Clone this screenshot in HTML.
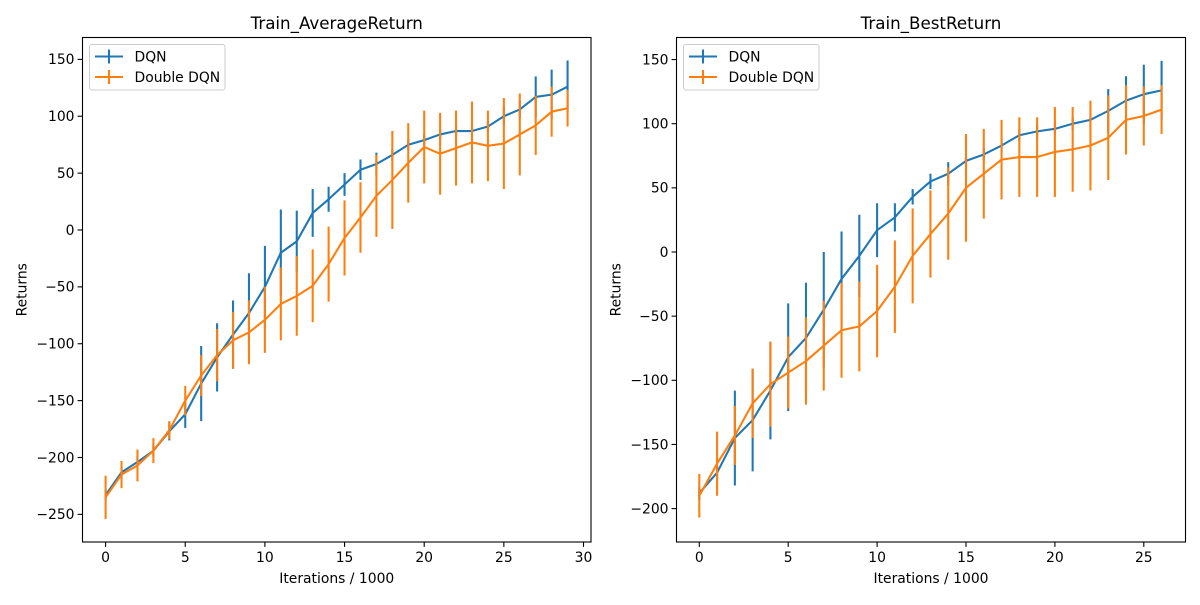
<!DOCTYPE html>
<html><head><meta charset="utf-8"><style>
html,body{margin:0;padding:0;background:#fff;}
svg text{font-family:"DejaVu Sans","Liberation Sans",sans-serif;fill:#000;}
</style></head>
<body>
<svg id="fig" width="1200" height="600" xmlns="http://www.w3.org/2000/svg"></svg>
<script>
// ---- Left chart data (Train_AverageReturn) ----
const leftIters = [0,1,2,3,4,5,6,7,8,9,10,11,12,13,14,15,16,17,18,19,20,21,22,23,24,25,26,27,28,29];
const leftDqnMean = [-233,-213,-204,-194,-177,-162,-135,-112,-92,-73,-50,-20,-10,15,27,40,53,58,66,75,79,84,87,87,91,100,106,117,119,126];
const leftDqnErr = [5,5,5,5,8,12,33,30,30,35,36,38,27,21,11,10,9,10,5,5,5,5,5,5,5,8,8,18,22,23];
const leftDdqnMean = [-235,-215,-207,-194,-176,-150,-128,-110,-97,-90,-79,-65,-58,-49,-30,-7,11,30,44,59,73,67,72,77,74,76,84,92,104,107];
const leftDdqnErr = [19,12,14,11,8,13,18,23,25,28,29,32,35,32,33,33,31,36,43,35,32,36,33,36,31,40,36,26,22,16];
const leftYTicks = [-250,-200,-150,-100,-50,0,50,100,150];
const leftXTicks = [0,5,10,15,20,25,30];
// ---- Right chart data (Train_BestReturn) ----
const rightIters = [0,1,2,3,4,5,6,7,8,9,10,11,12,13,14,15,16,17,18,19,20,21,22,23,24,25,26];
const rightDqnMean = [-188,-172,-145,-131,-108,-82,-67,-45,-21,-3,17,27,43,55,61,71,76,83,91,94,96,100,103,110,118,123,126];
const rightDqnErr = [5,5,37,40,38,42,43,45,37,32,21,11,6,6,9,5,5,5,5,5,5,5,5,17,19,23,23];
const rightDdqnMean = [-190,-165,-143,-118,-103,-94,-85,-73,-61,-58,-46,-27,-3,14,30,50,61,72,74,74,78,80,83,89,103,106,111];
const rightDdqnErr = [17,25,23,27,33,28,34,35,37,35,36,36,37,34,36,42,35,31,31,31,35,33,35,33,27,23,19];
const rightYTicks = [-200,-150,-100,-50,0,50,100,150];
const rightXTicks = [0,5,10,15,20,25];

const NS = "http://www.w3.org/2000/svg";
const svg = document.getElementById('fig');
function mk(tag, attrs, parent){ const e=document.createElementNS(NS,tag); for(const k in attrs) e.setAttribute(k,attrs[k]); (parent||svg).appendChild(e); return e; }

function drawChart(cfg){
  const g = mk('g',{});
  
  
  const X = v => cfg.x0 + v*cfg.xs;
  const Y = v => cfg.y0 - v*cfg.ys;
  const t = mk('text',{x:(cfg.L+cfg.R)/2, y:29, 'text-anchor':'middle','font-size':'16.7px'}, g);
  t.textContent = cfg.title;
  
  
  const series = [
    {mean:cfg.dm, err:cfg.de, color:'#1f77b4', name:'dqn'},
    {mean:cfg.ddm, err:cfg.dde, color:'#ff7f0e', name:'double-dqn'}
  ];
  series.forEach(s=>{
    const sg = mk('g',{}, g);
    
    
    const pts = cfg.iters.map((it,i)=>X(it).toFixed(2)+','+Y(s.mean[i]).toFixed(2)).join(' ');
    const pl = mk('polyline',{points:pts, fill:'none', stroke:s.color, 'stroke-width':2.08, 'stroke-linejoin':'round'}, sg);
    
    
    cfg.iters.forEach((it,i)=>{
      const l = mk('line',{x1:X(it), x2:X(it), y1:Y(s.mean[i]+s.err[i]), y2:Y(s.mean[i]-s.err[i]), stroke:s.color,'stroke-width':2.08}, sg);
      
      
    });
  });
  const fr = mk('rect',{x:cfg.L, y:cfg.T, width:cfg.R-cfg.L, height:cfg.B-cfg.T, fill:'none', stroke:'#000','stroke-width':1.1}, g);
  
  
  cfg.yt.forEach(v=>{
    const y=Y(v);
    mk('line',{x1:cfg.L-4.9,x2:cfg.L,y1:y,y2:y,stroke:'#000','stroke-width':1.1},g);
    const tx=mk('text',{x:cfg.L-8,y:y+4.8,'text-anchor':'end','font-size':'13.9px'},g);
    tx.textContent = v<0 ? '\u2212'+Math.abs(v) : String(v);
    
    
  });
  cfg.xt.forEach(v=>{
    const x=X(v);
    mk('line',{x1:x,x2:x,y1:cfg.B,y2:cfg.B+4.9,stroke:'#000','stroke-width':1.1},g);
    const tx=mk('text',{x:x,y:cfg.B+20,'text-anchor':'middle','font-size':'13.9px'},g);
    tx.textContent = String(v);
    
    
  });
  const xl=mk('text',{x:(cfg.L+cfg.R)/2,y:583,'text-anchor':'middle','font-size':'13.9px'},g);
  xl.textContent='Iterations / 1000';
  
  
  const yl=mk('text',{x:0,y:0,'text-anchor':'middle','font-size':'13.9px',transform:`translate(${cfg.L-56},${(cfg.T+cfg.B)/2}) rotate(-90)`},g);
  yl.textContent='Returns';
  
  
  const lg = mk('g',{}, g);
  
  
  const lx=cfg.L+7;
  mk('rect',{x:lx,y:44.5,width:135.5,height:45.5,rx:2.5,fill:'#fff','fill-opacity':0.8,stroke:'#ccc','stroke-width':1},lg);
  [['DQN','#1f77b4',56.5],['Double DQN','#ff7f0e',77]].forEach(([lab,c,y])=>{
    const e = mk('g',{},lg);
    
    
    mk('line',{x1:lx+5.5,x2:lx+33.5,y1:y,y2:y,stroke:c,'stroke-width':2.08},e);
    mk('line',{x1:lx+19.5,x2:lx+19.5,y1:y-7,y2:y+7,stroke:c,'stroke-width':2.08},e);
    const tx=mk('text',{x:lx+45,y:y+5,'font-size':'13.9px'},e);
    tx.textContent=lab;
  });
}

drawChart({name:'average-return-chart', title:'Train_AverageReturn', L:82.5,R:591,T:37.5,B:542,
  x0:105.6, xs:15.93, y0:230, ys:1.1375,
  iters:leftIters, dm:leftDqnMean, de:leftDqnErr, ddm:leftDdqnMean, dde:leftDdqnErr, yt:leftYTicks, xt:leftXTicks});
drawChart({name:'best-return-chart', title:'Train_BestReturn', L:676.5,R:1185.5,T:37.5,B:542,
  x0:699.3, xs:17.78, y0:252, ys:1.283,
  iters:rightIters, dm:rightDqnMean, de:rightDqnErr, ddm:rightDdqnMean, dde:rightDdqnErr, yt:rightYTicks, xt:rightXTicks});
</script>
</body></html>
